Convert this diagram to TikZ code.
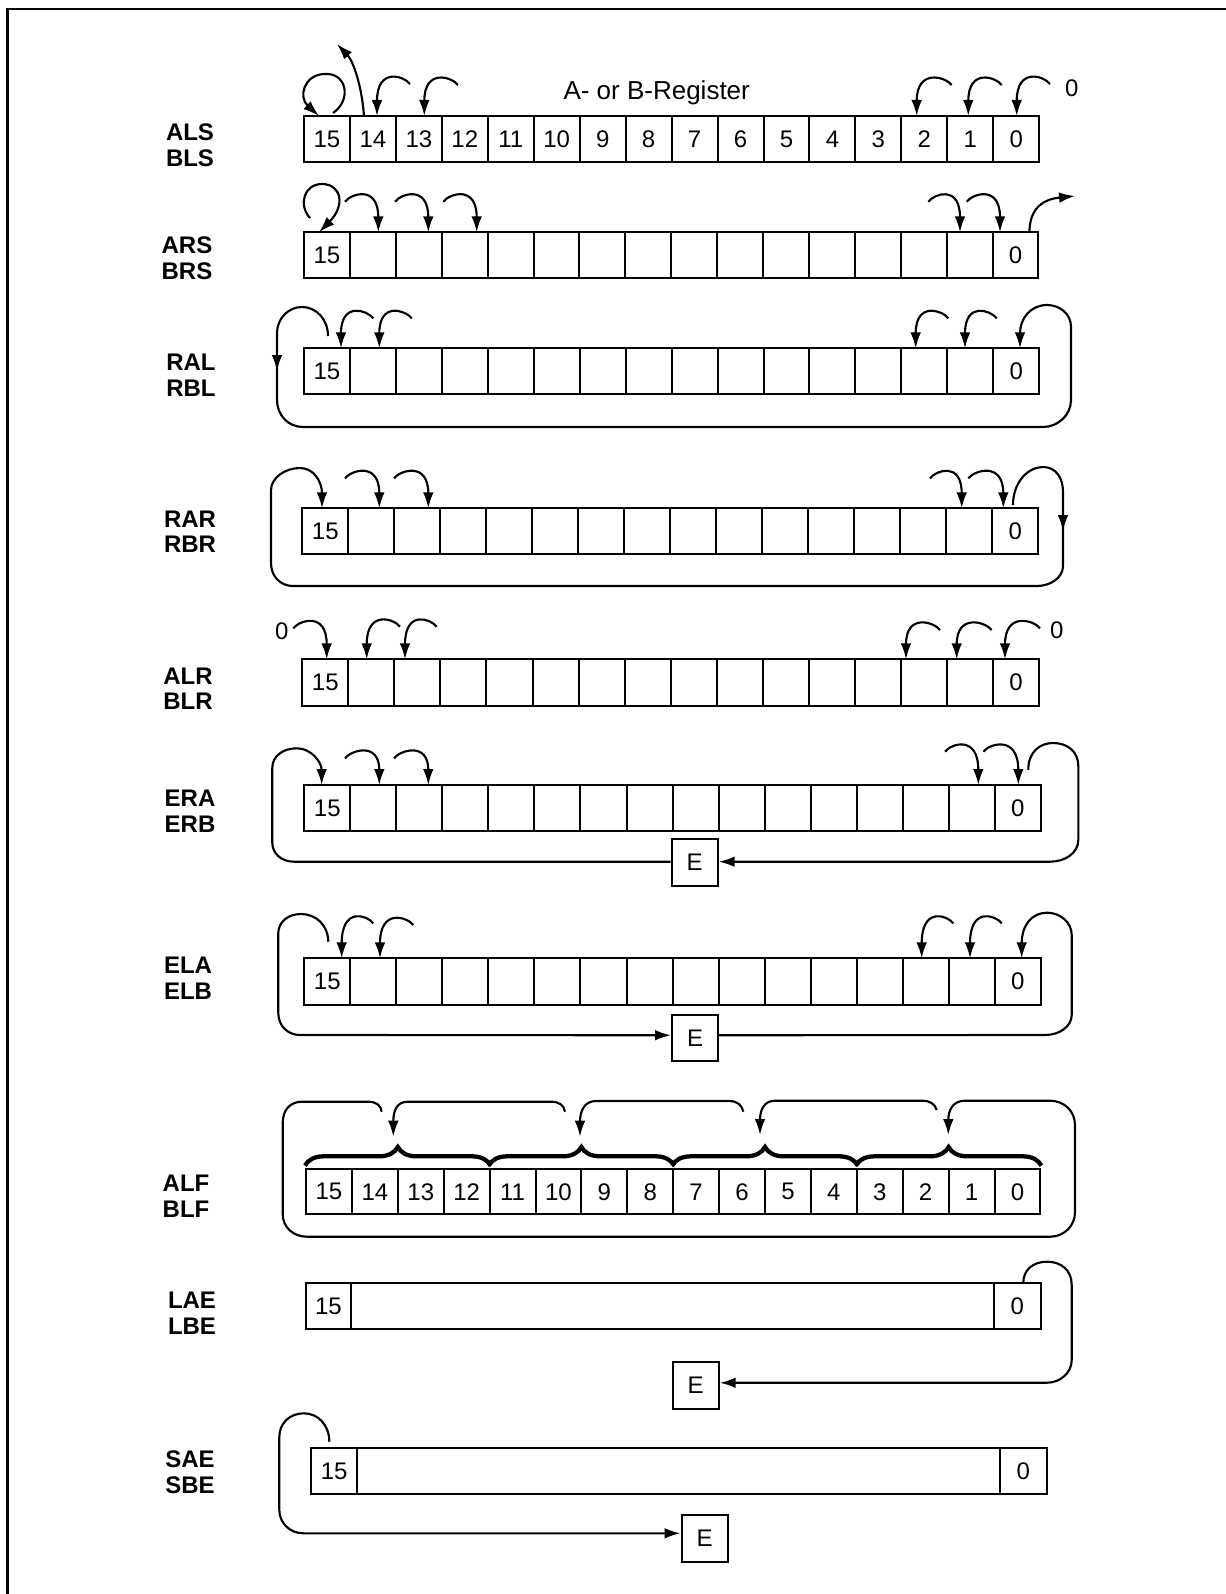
\documentclass[tikz,border=0pt]{standalone}
\usepackage{fontspec}
\setmainfont{Liberation Sans}
\usetikzlibrary{arrows.meta,decorations.pathreplacing}
\newcommand\regcells[6]{%
  \foreach \k in {0,...,15}{%
    \pgfmathtruncatemacro\bit{15-\k}%
    \pgfmathsetmacro\cx{#2+(\k+0.5)*#4}%
    \pgfmathsetmacro\cy{#3+#5/2}%
    \node[cell, minimum width=#4*0.75pt, minimum height=#5*0.75pt] (#1-\bit) at (\cx,\cy)
      {\ifnum#6=1 \bit\else\ifnum\bit=15 15\else\ifnum\bit=0 0\fi\fi\fi};
  }}
\newcommand\larr[4]{\draw[arr] (#1,#2) .. controls (#1-6,#2-8) and (#3,#2-17) .. (#3,#4);}
\newcommand\rarr[4]{\draw[arr] (#1,#2) .. controls (#1+6,#2-8) and (#3,#2-17) .. (#3,#4);}
\begin{document}
\begin{tikzpicture}[x=0.75pt,y=-0.75pt,
  cell/.style={draw, line width=1.5pt, inner sep=0pt, font=\fontsize{18}{20}\selectfont},
  lab/.style={font=\fontsize{18}{19.2}\selectfont\bfseries, align=center},
  arr/.style={line width=1.6pt, -{Latex[length=12pt,width=8pt]}},
  ln/.style={line width=1.6pt},
  brc/.style={line width=3.2pt, decorate, decoration={brace, amplitude=14pt, aspect=0.5}},
  ebox/.style={draw, line width=1.5pt, minimum width=34.5pt, minimum height=35pt, inner sep=0pt, font=\fontsize{18}{20}\selectfont},
  txt/.style={font=\fontsize{18}{20}\selectfont, inner sep=0pt}]
\useasboundingbox (0,0) rectangle (1226,1594);
% frame
\draw[line width=1.6pt] (7.5,1594) -- (7.5,9) -- (1226,9);

% labels
\node[lab] (l1) at (190,145.5) {ALS\\BLS};
\node[lab] (l2) at (187,258.3) {ARS\\BRS};
\node[lab] (l3) at (191,375.5) {RAL\\RBL};
\node[lab] (l4) at (190,531.7) {RAR\\RBR};
\node[lab] (l5) at (188,688.8) {ALR\\BLR};
\node[lab] (l6) at (190,811.2) {ERA\\ERB};
\node[lab] (l7) at (188,978) {ELA\\ELB};
\node[lab] (l8) at (186,1196.3) {ALF\\BLF};
\node[lab] (l9) at (192,1313.2) {LAE\\LBE};
\node[lab] (l10) at (190,1472.2) {SAE\\SBE};

% registers
\regcells{a}{304}{116}{45.95}{46}{1}
\regcells{b}{304}{232.3}{45.9}{46}{0}
\regcells{c}{304}{348.3}{45.95}{46}{0}
\regcells{d}{302.3}{508.3}{46}{45.5}{0}
\regcells{e}{302.3}{659.3}{46.04}{46.5}{0}
\regcells{f}{304.3}{785}{46.03}{46}{0}
\regcells{g}{304.3}{958.3}{46.03}{46.5}{0}
\regcells{h}{306}{1169.3}{45.9}{45}{1}
% LAE
\node[cell, minimum width=45.3*0.75pt, minimum height=46*0.75pt] (i-15) at (328.35,1306.3) {15};
\node[cell, minimum width=643*0.75pt, minimum height=46*0.75pt] (i-mid) at (672.5,1306.3) {};
\node[cell, minimum width=46.7*0.75pt, minimum height=46*0.75pt] (i-0) at (1017.35,1306.3) {0};
% SAE
\node[cell, minimum width=46.3*0.75pt, minimum height=46.6*0.75pt] (j-15) at (334.15,1471) {15};
\node[cell, minimum width=642.7*0.75pt, minimum height=46.6*0.75pt] (j-mid) at (678.65,1471) {};
\node[cell, minimum width=46.7*0.75pt, minimum height=46.6*0.75pt] (j-0) at (1023.35,1471) {0};

% E boxes
\node[ebox] (Ef) at (694.7,862.7) {E};
\node[ebox] (Eg) at (695,1037.9) {E};
\node[ebox] (Ei) at (695.7,1385.7) {E};
\node[ebox] (Ej) at (704.5,1538.3) {E};

% title
\node[font=\fontsize{19.5}{20}\selectfont, anchor=base, inner sep=0pt] (title) at (656.7,99.3) {A- or B-Register};

% ---- ALS
\draw[arr] (333,113) .. controls (352,100) and (347,72) .. (324,74) .. controls (304,75) and (298,97) .. (319,116);
\draw[arr] (364,116) .. controls (362,88) and (354,62) .. (337,44);
\larr{410}{84}{377}{116}
\larr{458}{85}{424.3}{116}
\larr{951.7}{85}{916.7}{116}
\larr{1001.7}{85}{968.3}{116}
\larr{1050}{84}{1016.7}{116}
\node[txt] (z1) at (1071.7,88.3) {0};

% ---- ARS
\draw[arr] (310,218) .. controls (298,205) and (304,184) .. (322,184) .. controls (341,184) and (346,205) .. (319,232.3);
\rarr{345}{201.7}{378.3}{232.3}
\rarr{395}{201.7}{428.3}{232.3}
\rarr{443.3}{201.7}{476.7}{232.3}
\rarr{928.3}{201.7}{960}{232.3}
\rarr{966.7}{201.7}{1000}{232.3}
\draw[arr] (1029.3,232.3) .. controls (1030,206) and (1045,199) .. (1075,196);

% ---- RAL
\draw[arr] (328,336) .. controls (328,319) and (316,307) .. (302,307) .. controls (288,307) and (277,319) .. (277,333) -- (277,400) .. controls (277,415) and (288,427) .. (303,427) -- (1043,427) .. controls (1058,427) and (1071,415) .. (1071,400) -- (1071,327) .. controls (1071,314) and (1060,305) .. (1047,305) .. controls (1031,305) and (1020,318) .. (1020,348.3);
\draw[arr] (277,350) -- (277,371);
\larr{373.3}{318.3}{341}{348.3}
\larr{411.7}{318.3}{379.3}{348.3}
\larr{948.3}{318.3}{915.7}{348.3}
\larr{996.7}{318.3}{965}{348.3}

% ---- RAR
\draw[arr] (1013,505) .. controls (1013,482) and (1028,467) .. (1043,467) .. controls (1056,467) and (1063,478) .. (1063,492) -- (1063,566) .. controls (1063,578) and (1050,586) .. (1037,586) -- (293,586) .. controls (280,586) and (271,576) .. (271,563) -- (271,490) .. controls (271,478) and (285,468) .. (300,468) .. controls (314,468) and (322,482) .. (322,508.3);
\draw[arr] (1063,510) -- (1063,531);
\rarr{345}{478.3}{379.3}{508.3}
\rarr{394}{478.3}{428.3}{508.3}
\rarr{930}{478.3}{961.7}{508.3}
\rarr{968.3}{478.3}{1003.3}{508.3}

% ---- ALR
\node[txt] (z2) at (281.7,631.7) {0};
\rarr{293.3}{628.3}{326.7}{659.3}
\larr{400}{626.7}{366.7}{659.3}
\larr{436.7}{626.7}{405}{659.3}
\larr{940}{630}{906}{659.3}
\larr{991.7}{630}{956.7}{659.3}
\larr{1040}{628.3}{1005}{659.3}
\node[txt] (z3) at (1056.7,630) {0};

% ---- ERA
\draw[arr] (1028.3,770) .. controls (1028,752) and (1040,743) .. (1053,743) .. controls (1068,743) and (1078.3,752) .. (1078.3,766) -- (1078.3,840) .. controls (1078.3,853) and (1065,861.7) .. (1050,861.7) -- ([yshift=0.75pt]Ef.east);
\draw[arr] ([yshift=0.75pt]Ef.west) -- (294,861.7) .. controls (281,861.7) and (272.3,853) .. (272.3,843) -- (272.3,768) .. controls (272.3,756) and (283,748.3) .. (297,748.3) .. controls (311,748.3) and (321.7,762) .. (321.7,785);
\rarr{345}{758.3}{379.3}{785}
\rarr{394}{758.3}{428.3}{785}
\rarr{945}{751.7}{978.3}{785}
\rarr{983.3}{751.7}{1018.3}{785}

% ---- ELA
\draw[arr] (328.3,941.7) .. controls (328,925) and (316,914) .. (301,914) .. controls (287,914) and (278.3,923) .. (278.3,933) -- (278.3,1013) .. controls (278.3,1026) and (288,1035) .. (300,1035) -- ([yshift=2pt]Eg.west);
\draw[arr] ([yshift=2pt]Eg.east) -- (1045,1035) .. controls (1060,1035) and (1071.7,1026) .. (1071.7,1015) -- (1071.7,935) .. controls (1071.7,922) and (1060,912.7) .. (1047,912.7) .. controls (1032,912.7) and (1021.7,925) .. (1021.7,958.3);
\larr{373.3}{923.3}{341.7}{958.3}
\larr{413.3}{925}{380}{958.3}
\larr{953.3}{923.3}{921.7}{958.3}
\larr{1001.7}{923.3}{970}{958.3}

% ---- ALF
\foreach \p/\q in {15/12, 11/8, 7/4, 3/0}
  \draw[brc] ([yshift=2pt]h-\p.north west) -- ([yshift=2pt]h-\q.north east);
\draw[arr] (381.7,1111.7) .. controls (381,1105) and (376,1101.7) .. (368,1101.7) -- (302,1101.7) .. controls (290,1101.7) and (282.7,1110) .. (282.7,1123) -- (282.7,1214) .. controls (282.7,1227) and (293,1236.7) .. (307,1236.7) -- (1050,1236.7) .. controls (1064,1236.7) and (1075,1226) .. (1075,1212) -- (1075,1125) .. controls (1075,1111) and (1064,1100.7) .. (1050,1100.7) -- (965,1100.7) .. controls (953,1100.7) and (948.3,1110) .. (948.3,1135);
\draw[arr] (565,1111.7) .. controls (564,1105) and (559,1101.7) .. (551,1101.7) -- (408,1101.7) .. controls (397,1101.7) and (393.3,1110) .. (393.3,1136.7);
\draw[arr] (743.3,1111.7) .. controls (742,1105) and (737,1101) .. (729,1101) -- (596,1101) .. controls (585,1101) and (580,1110) .. (580,1136.7);
\draw[arr] (936.7,1110) .. controls (935,1104) and (930,1100.7) .. (922,1100.7) -- (775,1100.7) .. controls (764,1100.7) and (760,1110) .. (760,1135);

% ---- LAE
\draw[arr] (1023.3,1283.3) .. controls (1023,1270) and (1033,1261.7) .. (1047,1261.7) .. controls (1061,1261.7) and (1071.7,1270) .. (1071.7,1285) -- (1071.7,1360) .. controls (1071.7,1373) and (1060,1382.7) .. (1047,1382.7) -- ([yshift=2.2pt]Ei.east);

% ---- SAE
\draw[arr] (329.3,1441.7) .. controls (329.3,1425) and (318,1413.3) .. (304,1413.3) .. controls (290,1413.3) and (279.3,1423) .. (279.3,1437) -- (279.3,1510) .. controls (279.3,1523) and (290,1533.3) .. (303.3,1533.3) -- ([yshift=3.75pt]Ej.west);
\end{tikzpicture}
\end{document}
